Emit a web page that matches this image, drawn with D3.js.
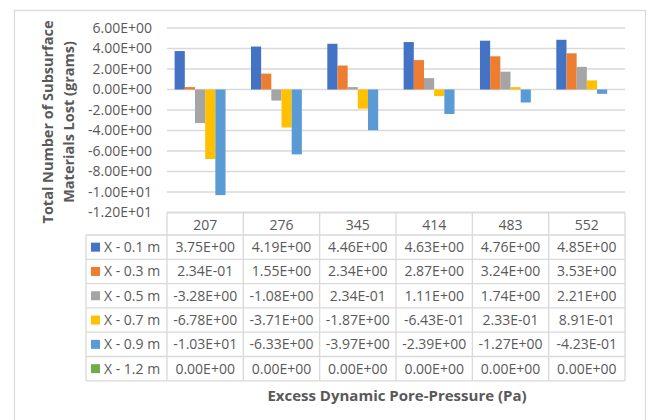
<!DOCTYPE html>
<html><head><meta charset="utf-8">
<script src="https://cdn.jsdelivr.net/npm/d3@7"></script>
<style>body{margin:0;background:#fff}svg{display:block}text{font-family:"Open Sans",sans-serif}</style>
</head><body><svg id="c" width="650" height="420"></svg>
<script>
const categories = ["207", "276", "345", "414", "483", "552"];
const seriesNames = ["X - 0.1 m", "X - 0.3 m", "X - 0.5 m", "X - 0.7 m", "X - 0.9 m", "X - 1.2 m"];
const s01 = [3.75, 4.19, 4.46, 4.63, 4.76, 4.85];
const s03 = [0.234, 1.55, 2.34, 2.87, 3.24, 3.53];
const s05 = [-3.28, -1.08, 0.234, 1.11, 1.74, 2.21];
const s07 = [-6.78, -3.71, -1.87, -0.643, 0.233, 0.891];
const s09 = [-10.3, -6.33, -3.97, -2.39, -1.27, -0.423];
const s12 = [0, 0, 0, 0, 0, 0];
const tableText = [
  ["3.75E+00","4.19E+00","4.46E+00","4.63E+00","4.76E+00","4.85E+00"],
  ["2.34E-01","1.55E+00","2.34E+00","2.87E+00","3.24E+00","3.53E+00"],
  ["-3.28E+00","-1.08E+00","2.34E-01","1.11E+00","1.74E+00","2.21E+00"],
  ["-6.78E+00","-3.71E+00","-1.87E+00","-6.43E-01","2.33E-01","8.91E-01"],
  ["-1.03E+01","-6.33E+00","-3.97E+00","-2.39E+00","-1.27E+00","-4.23E-01"],
  ["0.00E+00","0.00E+00","0.00E+00","0.00E+00","0.00E+00","0.00E+00"]
];
const yTicks = [6, 4, 2, 0, -2, -4, -6, -8, -10, -12];
const yTickLabels = ["6.00E+00","4.00E+00","2.00E+00","0.00E+00","-2.00E+00","-4.00E+00","-6.00E+00","-8.00E+00","-1.00E+01","-1.20E+01"];
const colors = ["#4472C4", "#ED7D31", "#A5A5A5", "#FFC000", "#5B9BD5", "#70AD47"];
const allSeries = [s01, s03, s05, s07, s09, s12];

const svg = d3.select("#c");
const grid = "#D9D9D9", txt = "#595959";
const L = 167, R = 625, T = 28, B = 212.5;
const FS = 14;

svg.append("rect").attr("x", 14.5).attr("y", 10.5).attr("width", 631).attr("height", 420)
  .attr("fill", "none").attr("stroke", grid).attr("stroke-width", 1.2);

const x0 = d3.scaleBand().domain(categories).range([L, R]).padding(0);
const x1 = d3.scaleBand().domain(seriesNames).range([0, x0.bandwidth()]).paddingInner(0).paddingOuter(0.75);
const y = d3.scaleLinear().domain([-12, 6]).range([B, T]);

svg.append("g").selectAll("line").data(yTicks).join("line")
  .attr("x1", L).attr("x2", R).attr("y1", d => y(d)).attr("y2", d => y(d))
  .attr("stroke", grid).attr("stroke-width", 1.3);

svg.append("g").selectAll("text").data(yTicks).join("text")
  .attr("x", 152).attr("y", d => y(d)).attr("dy", "0.35em").attr("text-anchor", "end")
  .attr("fill", txt).attr("font-size", FS).text((d, i) => yTickLabels[i]);

const flat = [];
allSeries.forEach((s, si) => s.forEach((v, ci) => flat.push({si, ci, v})));
svg.append("g").selectAll("rect").data(flat).join("rect")
  .attr("x", d => x0(categories[d.ci]) + x1(seriesNames[d.si]))
  .attr("width", x1.bandwidth())
  .attr("y", d => y(Math.max(0, d.v)))
  .attr("height", d => Math.abs(y(d.v) - y(0)))
  .attr("fill", d => colors[d.si]);

const headTop = 212.5, headH = 22.5, rowH = 24.3, labelL = 86;
const tb = svg.append("g");
const rowsBottom = headTop + headH + rowH * 6;
tb.append("line").attr("x1", L).attr("x2", R).attr("y1", headTop).attr("y2", headTop).attr("stroke", grid).attr("stroke-width", 1.3);
for (let r = 0; r <= 6; r++) {
  const yy = headTop + headH + rowH * r;
  tb.append("line").attr("x1", labelL).attr("x2", R).attr("y1", yy).attr("y2", yy).attr("stroke", grid).attr("stroke-width", 1.3);
}
tb.append("line").attr("x1", labelL).attr("x2", labelL).attr("y1", headTop + headH).attr("y2", rowsBottom).attr("stroke", grid).attr("stroke-width", 1.3);
const vx = categories.map(c => x0(c)).concat([R]);
tb.selectAll(".vl").data(vx).join("line").attr("class", "vl")
  .attr("x1", d => d).attr("x2", d => d).attr("y1", headTop).attr("y2", rowsBottom)
  .attr("stroke", grid).attr("stroke-width", 1.3);
tb.selectAll(".hd").data(categories).join("text").attr("class", "hd")
  .attr("x", d => x0(d) + x0.bandwidth() / 2).attr("y", headTop + headH / 2 + 1).attr("dy", "0.35em")
  .attr("text-anchor", "middle").attr("fill", txt).attr("font-size", FS).text(d => d);
seriesNames.forEach((n, r) => {
  const cy = headTop + headH + rowH * r + rowH / 2;
  tb.append("rect").attr("x", 91).attr("y", cy - 4.5).attr("width", 9).attr("height", 9).attr("fill", colors[r]);
  tb.append("text").attr("x", 104).attr("y", cy).attr("dy", "0.35em").attr("fill", txt).attr("font-size", FS).text(n);
  tableText[r].forEach((t, c) => {
    tb.append("text").attr("x", x0(categories[c]) + x0.bandwidth() / 2).attr("y", cy).attr("dy", "0.35em")
      .attr("text-anchor", "middle").attr("fill", txt).attr("font-size", FS).text(t);
  });
});

svg.append("text").attr("x", 397).attr("y", 396).attr("dy", "0.35em").attr("text-anchor", "middle")
  .attr("fill", txt).attr("font-size", 15).attr("font-weight", "bold").text("Excess Dynamic Pore-Pressure (Pa)");
const yt = svg.append("text").attr("transform", "translate(48,122) rotate(-90)").attr("text-anchor", "middle")
  .attr("fill", txt).attr("font-size", 14.5).attr("font-weight", "bold");
yt.append("tspan").attr("x", 0).attr("y", 0).attr("dy", "0.35em").text("Total Number of Subsurface");
yt.append("tspan").attr("x", 0).attr("y", 21).attr("dy", "0.35em").text("Materials Lost (grams)");
</script></body></html>
